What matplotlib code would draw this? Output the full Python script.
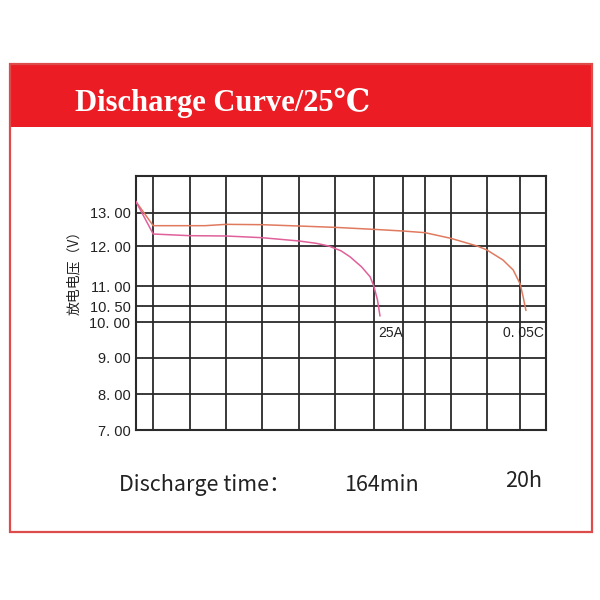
import numpy as np
import matplotlib

matplotlib.use("Agg")
import matplotlib.pyplot as plt
from matplotlib.patches import Rectangle

# voltage ticks of the (non-uniform) y axis and where they sit, 0..254 from bottom
Y_TICKS = [7.0, 8.0, 9.0, 10.0, 10.5, 11.0, 12.0, 13.0]
Y_SCALE_V = [7.0, 8.0, 9.0, 10.0, 10.5, 11.0, 12.0, 13.0, 14.1]
Y_SCALE_POS = [0.0, 35.7, 72.3, 107.7, 124.0, 144.0, 184.0, 217.3, 254.0]

# vertical grid lines (arbitrary time units, 0..100)
X_GRID = [0, 4.1, 13.2, 22.0, 30.7, 39.8, 48.5, 58.0, 65.1, 70.5, 76.8, 85.6, 93.7, 100]

# 0.05C discharge
c005_x = [0, 4.2, 16.8, 22.0, 30.7, 39.8, 48.5, 58.0, 65.1, 70.5, 76.8, 83.2, 85.6, 89.5, 92.0, 93.7, 94.4, 95.1]
c005_v = [13.33, 12.61, 12.61, 12.65, 12.64, 12.60, 12.56, 12.50, 12.45, 12.40, 12.23, 12.00, 11.90, 11.65, 11.40, 11.05, 10.74, 10.37]

# 25A discharge
a25_x = [0, 4.2, 13.1, 22.0, 30.7, 39.8, 44.0, 47.0, 50.0, 52.2, 55.0, 57.1, 58.0, 58.9, 59.5]
a25_v = [13.33, 12.36, 12.31, 12.30, 12.25, 12.15, 12.08, 12.00, 11.88, 11.73, 11.48, 11.23, 11.00, 10.65, 10.20]


def fwd(v):
    return np.interp(v, Y_SCALE_V, Y_SCALE_POS)


def inv(p):
    return np.interp(p, Y_SCALE_POS, Y_SCALE_V)


def fx(px):
    return px / 600.0


def fy(py):
    return 1.0 - py / 600.0


fig = plt.figure(figsize=(6, 6), dpi=100)
fig.patch.set_facecolor("white")

# red header and thin frame
fig.patches.append(Rectangle((fx(9), fy(127)), fx(592) - fx(9), fy(64) - fy(127),
                             transform=fig.transFigure, facecolor="#ec1c24",
                             edgecolor="none", zorder=0))
fig.patches.append(Rectangle((fx(10), fy(532)), fx(592) - fx(10), fy(64) - fy(532),
                             transform=fig.transFigure, facecolor="none",
                             edgecolor="#dd4b4b", linewidth=1.6, zorder=1))
fig.text(fx(75), fy(111), "Discharge Curve/25℃", color="white", fontsize=22,
         fontweight="bold", family=["Liberation Serif", "DejaVu Serif"],
         ha="left", va="baseline")

ax = fig.add_axes([fx(136), fy(430), fx(546) - fx(136), fy(176) - fy(430)])
ax.set_yscale("function", functions=(fwd, inv))
ax.set_xlim(0, 100)
ax.set_ylim(7.0, 14.1)

ax.set_xticks(X_GRID)
ax.set_xticklabels([])
ax.set_yticks(Y_TICKS)
ax.set_yticklabels([f"{t:.2f}".replace(".", ". ") for t in Y_TICKS],
                   family="Liberation Sans", fontsize=10.5, color="#222222")
ax.yaxis.set_minor_locator(matplotlib.ticker.NullLocator())
ax.tick_params(length=0, pad=4)
ax.grid(True, color="#2a2a2a", linewidth=1.3)
ax.set_axisbelow(True)
for sp in ax.spines.values():
    sp.set_color("#2a2a2a")
    sp.set_linewidth(1.5)

ax.plot(c005_x, c005_v, color="#e07a5f", linewidth=1.1, zorder=3)
ax.plot(a25_x, a25_v, color="#e0609a", linewidth=1.1, zorder=3)

ax.text(59.0, 9.71, "25A", family="Liberation Sans", fontsize=10,
        color="#222222", ha="left", va="center")
ax.text(89.4, 9.71, "0. 05C", family="Liberation Sans", fontsize=10,
        color="#222222", ha="left", va="center")

ax.set_ylabel("放电电压（V）", family=["Noto Sans CJK SC", "DejaVu Sans"],
              fontsize=10, color="#222222")
ax.yaxis.set_label_coords((81 - 136) / 410.0, (430 - 269) / 254.0)

bottom_font = ["Noto Sans CJK SC", "DejaVu Sans"]
fig.text(fx(119), fy(491), "Discharge time：", family=bottom_font, fontsize=15.5,
         color="#222222", ha="left", va="baseline")
fig.text(fx(344), fy(491), "164min", family=bottom_font, fontsize=15.5,
         color="#222222", ha="left", va="baseline")
fig.text(fx(505), fy(487), "20h", family=bottom_font, fontsize=15.5,
         color="#222222", ha="left", va="baseline")

fig.savefig("out.png", dpi=100)
